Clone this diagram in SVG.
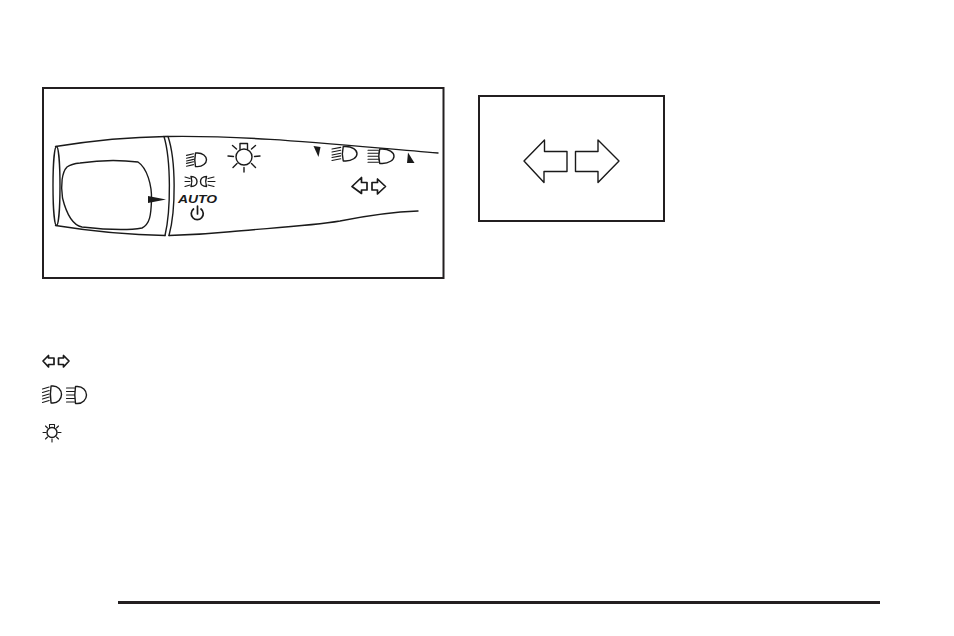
<svg xmlns="http://www.w3.org/2000/svg" width="954" height="636" viewBox="0 0 954 636">
<style>
.l{fill:none;stroke:#1a1a1a;stroke-width:1.4;stroke-linecap:round;stroke-linejoin:round;vector-effect:non-scaling-stroke}
.t{stroke-width:1.1}
.h{stroke-width:1.7}
.f{fill:#1a1a1a;stroke:none}
.b{fill:#fff;stroke:#231f20;stroke-width:2}
</style>
<defs>
<g id="beam"><path class="l" d="M9 0H11C16 0 20 4 20 8.500S16 17 11 17H9C8 11 8 6 9 0z"/><path class="l t" d="M0 3L7 1M0 6.500L7 4.500M0 10L7 8M0 13L7 11M0 16.500L7 14.500"/></g>
<g id="beamf"><path class="l" d="M9 0H11C16 0 20 4 20 8.500S16 17 11 17H9C8 11 8 6 9 0z"/><path class="l t" d="M0 1.500H8M0 5H8M0 8.500H8M0 12H8M0 15.500H8"/></g>
</defs>
<rect width="954" height="636" fill="#fff"/>
<g id="stalk-panel">
<rect class="b" x="43" y="88" width="400.500" height="190"/>
<path class="l" d="M55.500 146.500C90 141 130 137 166 136.500"/>
<path class="l" d="M55.500 225.500C90 231 130 235 165 235.500"/>
<path class="l" d="M164 136.500C171 160 171 210 165 235.500"/>
<path class="l" d="M168 136.500C176 160 176 210 169 235.500"/>
<ellipse class="l" cx="56.500" cy="186" rx="3.500" ry="39.500"/>
<path class="l" d="M80 163C100 160 122 160 138 162C147 168 152 185 151.500 200C151 215 150 224 142 228C125 231 100 229 82 227C72 225 66 212 62.500 198C60.500 185 62 172 67 167C71 164 75 163.500 80 163z"/>
<path class="f" d="M148 196L166 199.500L148 203z"/>
<path class="l" d="M166 136.500C250 135 340 145 438 153"/>
<path class="l" d="M169 235.500C190 235 212 233.500 230 231.700C270 228 310 226 340 221C365 216 390 212 418 211"/>
<use href="#beam" transform="translate(186.500 153) scale(1 .8)"/>
<g>
<path class="l" d="M191 176.500c4 0 6 2.500 6 5s-2 5-6 5c1-3 1-7 0-10z"/>
<path class="l t" d="M185 177l5 1.500M185 181.500h5M185 186.500l5-1.500"/>
<path class="l" d="M206.500 176.500c-4 0-6 2.500-6 5s2 5 6 5c-1-3-1-7 0-10z"/>
<path class="l t" d="M208 178.500l6-1.500M208 181.500h7M208 185l6 1.500"/>
</g>
<text x="178" y="203" font-family="'Liberation Sans',Arial,sans-serif" font-size="11" font-weight="700" font-style="italic" fill="#1a1a1a" textLength="39" lengthAdjust="spacingAndGlyphs">AUTO</text>
<path class="l h" d="M193.500 209a6 6 0 1 0 7.500 0M197.500 206v8"/>
<g>
<circle class="l" cx="244" cy="157" r="8"/>
<path class="l" d="M240 149.500V143.500H247.500V149.500"/>
<path class="l" d="M228 156l5.500 .5M254.500 156.500l5.500-.5M232.500 145.500l4 3.500M255.500 145.500l-4 3.500M233 167.500l4-4M255.500 167.500l-4-4M244 167.500v4.500"/>
</g>
<path class="f" d="M313.500 146L320.500 147L318.500 157z"/>
<use href="#beam" transform="translate(332 146.500) scale(1.250 .85)"/>
<use href="#beamf" transform="translate(368 149) scale(1.300 .85)"/>
<path class="f" d="M408 152.500L414.500 163H407z"/>
<path class="l h" d="M352 186.500l9.500-9v5h5.500v7.500h-5.500v3.500z"/>
<path class="l h" d="M385.500 186.500l-8-7.500v3.500h-5.500v7.500h5.500v4z"/>
</g>
<g id="arrow-panel">
<rect class="b" x="479" y="96" width="185" height="125"/>
<path class="l" d="M524 161l20.500-21v11.500h22.500v20H544v11z"/>
<path class="l" d="M619 161l-21-21v11.500h-22.500v20H598v11z"/>
</g>
<g id="symbols">
<path class="l h" d="M43 361l5.500-5.500v2.500h5.500v6.500h-5.500v2.500z"/>
<path class="l h" d="M69 361l-5.500-5.500v2.500h-5v6.500h5v2.500z"/>
<use href="#beam" transform="translate(42.500 386) scale(.95 1)"/>
<use href="#beamf" transform="translate(66.500 386.500) scale(1 1)"/>
<g>
<circle class="l" cx="52" cy="432.500" r="5"/>
<path class="l t" d="M49.500 427.500v-3h5v3M43 432.500h3M58 432.500h3M45.500 426l2 2M58.500 426l-2 2M45.500 439l2-2M58.500 439l-2-2M52 439v3"/>
</g>
</g>
<rect id="rule" x="118" y="601" width="762" height="3" fill="#231f20"/>
</svg>
